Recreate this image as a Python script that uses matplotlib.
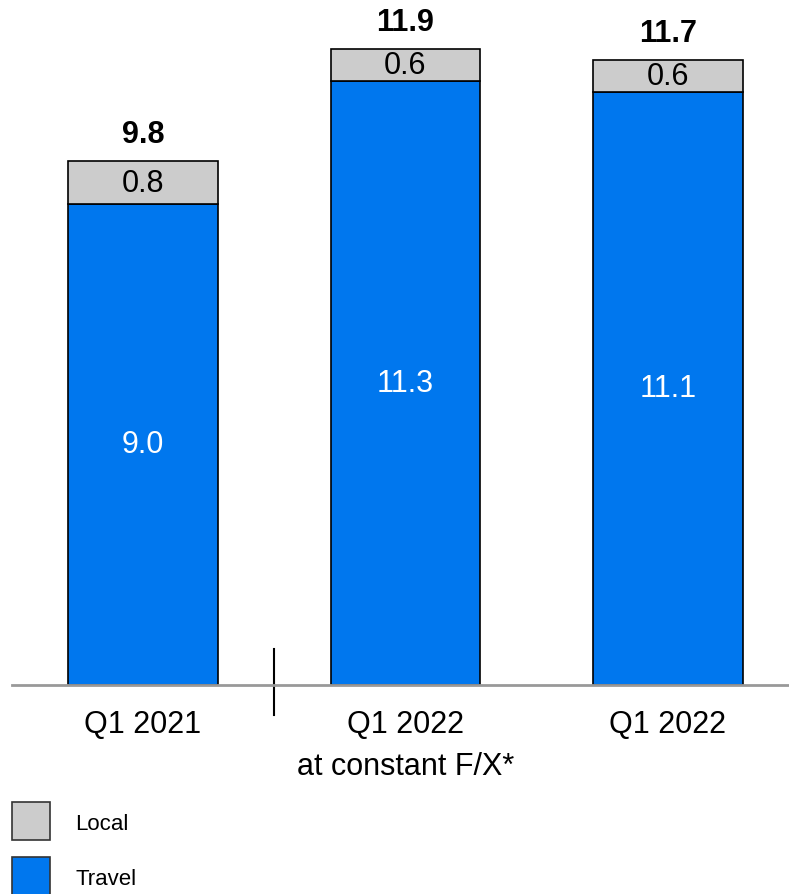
import numpy as np
import matplotlib.pyplot as plt
from matplotlib.patches import Rectangle

plt.rcParams["font.family"] = ["Liberation Sans", "DejaVu Sans"]

categories = ["Q1 2021", "Q1 2022\nat constant F/X*", "Q1 2022"]
travel = [9.0, 11.3, 11.1]
local = [0.8, 0.6, 0.6]
totals = [9.8, 11.9, 11.7]

BLUE = "#0077EE"
GREY = "#CCCCCC"
W, H = 789, 895

fig = plt.figure(figsize=(W / 100, H / 100), dpi=100)
ax = fig.add_axes([12 / W, 209 / H, 777 / W, 686 / H])

x = np.arange(len(categories))
width = 0.571
ax.bar(x, travel, width, color=BLUE, edgecolor="black", linewidth=1.2)
ax.bar(x, local, width, bottom=travel, color=GREY, edgecolor="black", linewidth=1.2)

for i in range(len(x)):
    ax.text(x[i], travel[i] / 2, f"{travel[i]:.1f}", ha="center", va="center",
            color="white", fontsize=22)
    ax.text(x[i], travel[i] + local[i] / 2, f"{local[i]:.1f}", ha="center",
            va="center", color="black", fontsize=22)
    ax.text(x[i], totals[i] + 0.5, f"{totals[i]:.1f}", ha="center",
            va="center", color="black", fontsize=22, fontweight="bold")

ax.set_xlim(-0.499, 2.461)
ax.set_ylim(0, 686 / 53.45)
for s in ["top", "right", "left"]:
    ax.spines[s].set_visible(False)
ax.spines["bottom"].set_color("#999999")
ax.spines["bottom"].set_linewidth(2)
ax.set_yticks([])
ax.set_xticks(x)
ax.set_xticklabels(categories, fontsize=22, linespacing=1.55)
ax.tick_params(axis="x", length=0, pad=17)

# separator between the first bar and the others
ax.plot([0.5, 0.5], [0.67, -0.56], color="black", lw=1.5, clip_on=False)

# legend
for label, color, top in [("Local", GREY, 803), ("Travel", BLUE, 858)]:
    fig.patches.append(Rectangle((12 / W, (H - top - 38) / H), 38 / W, 38 / H,
                                 transform=fig.transFigure, facecolor=color,
                                 edgecolor="#333333", linewidth=1.2))
    fig.text(75 / W, (H - top - 22) / H, label, fontsize=16, va="center")

fig.savefig("out.png", dpi=100)
